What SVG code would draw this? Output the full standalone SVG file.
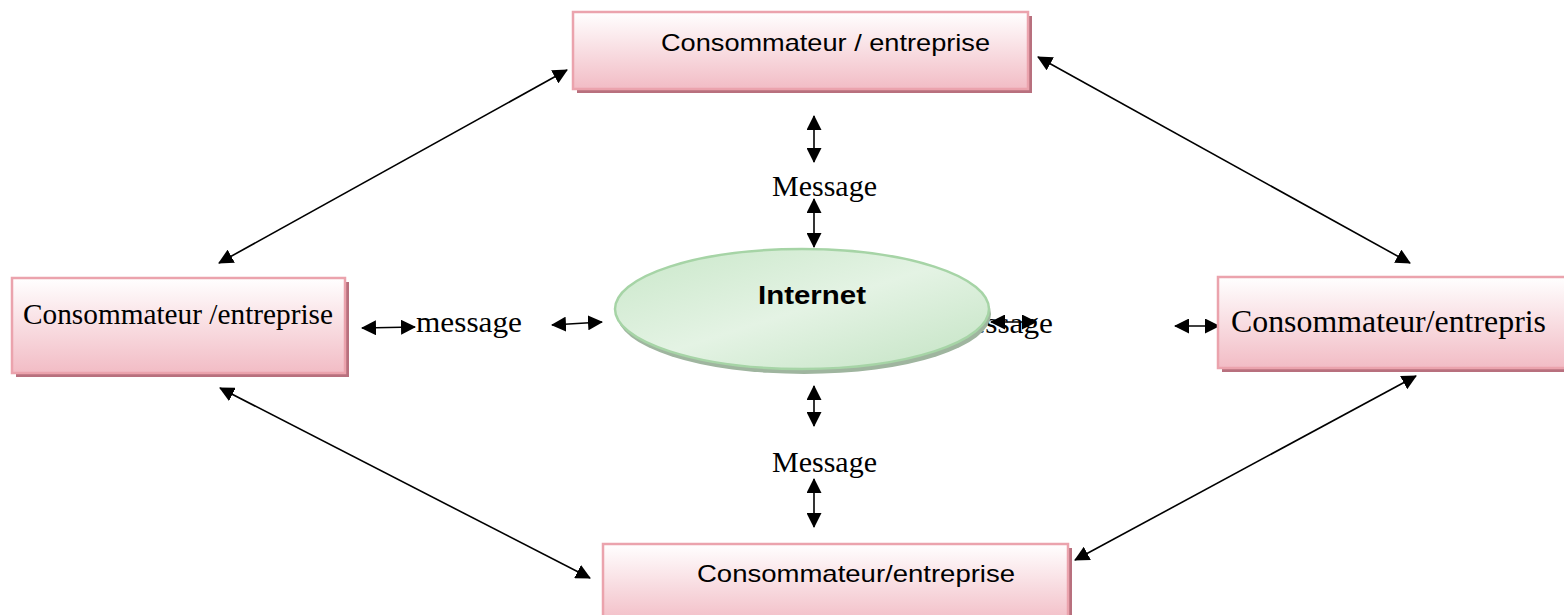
<svg xmlns="http://www.w3.org/2000/svg" width="1564" height="615" viewBox="0 0 1564 615">
  <style>
    .box { fill: url(#pinkFill); stroke: #eba3ad; stroke-width: 2.5; }
    .boxShadow { fill: #b8707e; }
    .calibri { font-family: "Liberation Sans", "Noto Sans", sans-serif; fill: #000; }
    .times { font-family: "Liberation Serif", "Times New Roman", serif; fill: #000; }
    .link { stroke: #000; stroke-width: 1.6; fill: none; marker-start: url(#head); marker-end: url(#head); }
  </style>
  <defs>
    <linearGradient id="pinkFill" x1="0" y1="0" x2="0" y2="1">
      <stop offset="0" stop-color="#ffffff"/>
      <stop offset="1" stop-color="#f2bcc5"/>
    </linearGradient>
    <linearGradient id="greenFill" x1="0" y1="0" x2="1" y2="1">
      <stop offset="0" stop-color="#c9e7c9"/>
      <stop offset="0.5" stop-color="#e4f3e4"/>
      <stop offset="1" stop-color="#c3e3c3"/>
    </linearGradient>
    <marker id="head" viewBox="0 0 15 15" markerWidth="15" markerHeight="15" refX="14" refY="7.5" orient="auto-start-reverse" markerUnits="userSpaceOnUse">
      <path d="M0,0 L15,7.5 L0,15 z" fill="#000"/>
    </marker>
  </defs>

  <!-- connectors -->
  <g id="connectors">
    <line class="link" x1="219" y1="263" x2="567" y2="70"/>
    <line class="link" x1="1038" y1="57" x2="1410" y2="263"/>
    <line class="link" x1="220" y1="388" x2="590" y2="578"/>
    <line class="link" x1="1075" y1="560" x2="1416" y2="376"/>
    <line class="link" x1="814" y1="116" x2="814" y2="162"/>
    <line class="link" x1="814" y1="199" x2="814" y2="247"/>
    <line class="link" x1="814" y1="386" x2="814" y2="426"/>
    <line class="link" x1="814" y1="479" x2="814" y2="527"/>
    <line class="link" x1="362" y1="328" x2="415" y2="327"/>
    <line class="link" x1="552" y1="325" x2="602" y2="322"/>
    <line class="link" x1="1175" y1="326" x2="1219" y2="326"/>
  </g>

  <!-- message labels -->
  <text class="times" x="772" y="196" font-size="29" textLength="105" lengthAdjust="spacingAndGlyphs">Message</text>
  <text class="times" x="772" y="472" font-size="29" textLength="105" lengthAdjust="spacingAndGlyphs">Message</text>
  <text class="times" x="416" y="332" font-size="29" textLength="106" lengthAdjust="spacingAndGlyphs">message</text>
  <text class="times" x="947" y="333" font-size="29" textLength="106" lengthAdjust="spacingAndGlyphs">message</text>

  <!-- central Internet ellipse -->
  <g id="internet">
    <ellipse cx="804" cy="314" rx="187" ry="60" fill="#9fb59f"/>
    <ellipse cx="802" cy="309" rx="187" ry="60" fill="url(#greenFill)" stroke="#a6d4a6" stroke-width="2.5"/>
    <text class="calibri" x="758" y="304" font-size="25" font-weight="bold" textLength="108" lengthAdjust="spacingAndGlyphs">Internet</text>
  </g>

  <!-- arrow drawn over the ellipse edge -->
  <line class="link" x1="991" y1="322" x2="1036" y2="322"/>

  <g id="node-top">
    <rect class="boxShadow" x="577" y="16" width="455" height="77"/>
    <rect class="box" x="573" y="12" width="455" height="77"/>
    <text class="calibri" x="661" y="51" font-size="24" textLength="329" lengthAdjust="spacingAndGlyphs">Consommateur / entreprise</text>
  </g>

  <g id="node-left">
    <rect class="boxShadow" x="16" y="282" width="333" height="95"/>
    <rect class="box" x="12" y="278" width="333" height="95"/>
    <text class="times" x="23" y="324" font-size="29" textLength="310" lengthAdjust="spacingAndGlyphs">Consommateur /entreprise</text>
  </g>

  <g id="node-right">
    <rect class="boxShadow" x="1222" y="281" width="350" height="91"/>
    <rect class="box" x="1218" y="277" width="350" height="91"/>
    <text class="times" x="1231" y="332" font-size="31" textLength="315" lengthAdjust="spacingAndGlyphs">Consommateur/entrepris</text>
  </g>

  <g id="node-bottom">
    <rect class="boxShadow" x="607" y="548" width="465" height="80"/>
    <rect class="box" x="603" y="544" width="465" height="80"/>
    <text class="calibri" x="697" y="582" font-size="24" textLength="318" lengthAdjust="spacingAndGlyphs">Consommateur/entreprise</text>
  </g>
</svg>
